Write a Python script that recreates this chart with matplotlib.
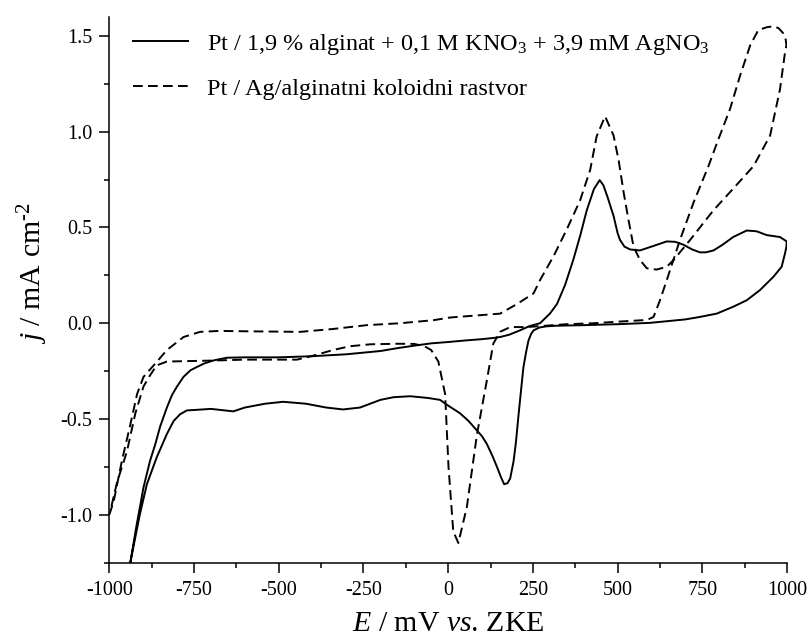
import numpy as np
import matplotlib.pyplot as plt
from matplotlib.ticker import MultipleLocator

plt.rcParams['font.family'] = ['Liberation Serif', 'DejaVu Serif']
plt.rcParams['mathtext.fontset'] = 'custom'
plt.rcParams['mathtext.rm'] = 'Liberation Serif'
plt.rcParams['mathtext.it'] = 'Liberation Serif:italic'
plt.rcParams['axes.unicode_minus'] = False
plt.rcParams['lines.scale_dashes'] = False

# Pt / 1,9 % alginat + 0,1 M KNO3 + 3,9 mM AgNO3  (closed CV loop)
E_agno3 = [-948, -938, -920, -899, -880, -864, -850, -830, -815, -800, -781, -760,
           -742, -720, -692, -653, -600, -500, -400, -300, -200, -150, -92, -50, 0,
           50, 100, 133, 153, 180, 212, 240, 271, 300, 321, 345, 369, 390, 409, 430,
           447, 458, 470, 488, 500, 507, 520, 537, 566, 600, 645, 670, 694, 720,
           743, 760, 783, 810, 841, 881, 910, 940, 979, 999,
           998, 994, 984, 960, 920, 881, 841, 792, 743, 700, 596, 500, 400, 320,
           291, 270, 252, 245, 237, 230, 222, 215, 207, 200, 193, 183, 175, 165,
           155, 144, 130, 114, 100, 85, 60, 35, 0, -24, -60, -112, -161, -200,
           -260, -310, -360, -420, -487, -540, -600, -634, -700, -742, -771, -791,
           -810, -830, -860, -889, -910, -938, -950]
j_agno3 = [-1.35, -1.25, -1.06, -0.857, -0.72, -0.63, -0.54, -0.44, -0.375, -0.33,
           -0.28, -0.245, -0.229, -0.21, -0.194, -0.18, -0.178, -0.178, -0.172,
           -0.162, -0.145, -0.13, -0.115, -0.105, -0.098, -0.09, -0.083, -0.077,
           -0.072, -0.06, -0.037, -0.015, 0.0, 0.05, 0.10, 0.20, 0.33, 0.46, 0.59,
           0.70, 0.747, 0.72, 0.66, 0.56, 0.47, 0.435, 0.40, 0.385, 0.38, 0.40,
           0.427, 0.425, 0.41, 0.385, 0.37, 0.37, 0.38, 0.41, 0.45, 0.484, 0.48,
           0.46, 0.45, 0.427,
           0.40, 0.365, 0.295, 0.243, 0.173, 0.12, 0.086, 0.05, 0.033, 0.02, 0.002,
           -0.005, -0.01, -0.013, -0.016, -0.022, -0.037, -0.055, -0.09, -0.15,
           -0.23, -0.35, -0.49, -0.62, -0.72, -0.81, -0.835, -0.84, -0.80, -0.75,
           -0.69, -0.63, -0.59, -0.56, -0.51, -0.47, -0.43, -0.40, -0.39, -0.381,
           -0.386, -0.40, -0.44, -0.45, -0.44, -0.42, -0.41, -0.42, -0.44, -0.46,
           -0.447, -0.452, -0.455, -0.475, -0.51, -0.578, -0.70, -0.84, -1.0, -1.25,
           -1.37]

# Pt / Ag/alginatni koloidni rastvor
E_colloid = [-1000, -987, -963, -938, -918, -899, -864, -830, -781, -732, -673,
             -600, -437, -340, -240, -142, -43, 6, 80, 153, 203, 252, 271, 311, 350,
             389, 419, 438, 463, 488, 503, 518, 532, 547, 566, 586, 615, 645, 665,
             714, 783, 850, 901, 950, 979, 994, 998,
             996, 988, 975, 960, 940, 915, 891, 861, 832, 793, 768, 724, 684, 645,
             625, 606, 590, 575, 500, 429, 350, 232, 183, 153, 133, 114, 85, 55,
             30, 15, 1, -9, -29, -50, -70, -100, -150, -230, -290, -340, -400, -446,
             -500, -600, -700, -830, -860, -879, -899, -923, -948, -977, -997]
j_colloid = [-1.0, -0.93, -0.72, -0.53, -0.37, -0.28, -0.21, -0.14, -0.072, -0.045,
             -0.04, -0.042, -0.045, -0.03, -0.01, 0.0, 0.016, 0.03, 0.04, 0.05, 0.1,
             0.156, 0.225, 0.35, 0.49, 0.64, 0.80, 0.975, 1.08, 0.98, 0.85, 0.68,
             0.54, 0.40, 0.33, 0.287, 0.28, 0.295, 0.33, 0.435, 0.59, 0.72, 0.82,
             0.98, 1.22, 1.415, 1.45,
             1.48, 1.515, 1.54, 1.55, 1.545, 1.53, 1.45, 1.29, 1.12, 0.94, 0.82,
             0.63, 0.435, 0.225, 0.12, 0.033, 0.02, 0.016, 0.008, 0.0, -0.005, -0.02,
             -0.02, -0.045, -0.107, -0.30, -0.58, -0.96, -1.147, -1.086, -0.75,
             -0.37, -0.20, -0.14, -0.12, -0.108, -0.107, -0.11, -0.12, -0.14, -0.17,
             -0.19, -0.19, -0.19, -0.195, -0.2, -0.22, -0.27, -0.33, -0.47, -0.67,
             -0.83, -0.98]

label_agno3 = 'Pt / 1,9 % alginat + 0,1 M KNO$_3$ + 3,9 mM AgNO$_3$'
label_colloid = 'Pt / Ag/alginatni koloidni rastvor'

fig = plt.figure(figsize=(8.1, 6.37), dpi=100)
ax = fig.add_axes([0.1349, 0.1166, 0.8368, 0.8572])

ax.plot(E_agno3, j_agno3, color='black', lw=1.4, label=label_agno3)
ax.plot(E_colloid, j_colloid, color='black', lw=1.4,
        linestyle=(0, (7.0, 3.8)), label=label_colloid)

ax.set_xlim(-1000, 1000)
ax.set_ylim(-1.25, 1.6)
ax.xaxis.set_major_locator(MultipleLocator(250))
ax.xaxis.set_minor_locator(MultipleLocator(125))
ax.yaxis.set_major_locator(MultipleLocator(0.5))
ax.yaxis.set_minor_locator(MultipleLocator(0.25))
ax.yaxis.set_major_formatter(plt.FuncFormatter(lambda v, p: f'{v:.1f}'))

for side in ('top', 'right'):
    ax.spines[side].set_visible(False)
for side in ('left', 'bottom'):
    ax.spines[side].set_linewidth(1.1)
ax.tick_params(which='major', direction='out', length=7, width=1.1,
               labelsize=14.5, pad=6)
ax.tick_params(which='minor', direction='out', length=3.5, width=1.1)
ax.tick_params(axis='y', which='major', pad=5)

ax.set_xlabel(r'$\mathit{E}$ / mV $\mathit{vs}$. ZKE', fontsize=21.5, labelpad=8)
ax.set_ylabel(r'$\mathit{j}$ / mA cm$^{\text{-}2}$', fontsize=21.5)
ax.yaxis.set_label_coords(-0.088, 0.53)

ax.legend(loc='upper left', bbox_to_anchor=(0.035, 0.972), frameon=False,
          fontsize=17.5, handlelength=2.26, handletextpad=0.78,
          labelspacing=0.85, borderpad=0, borderaxespad=0)

fig.savefig('out.png', dpi=100)
